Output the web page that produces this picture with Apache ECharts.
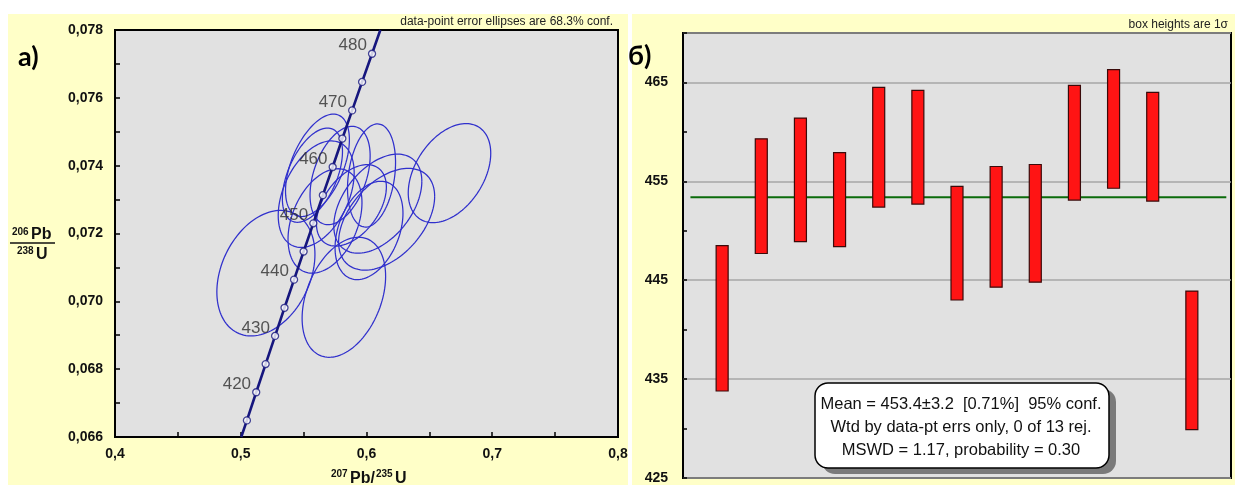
<!DOCTYPE html>
<html>
<head>
<meta charset="utf-8">
<script src="https://cdn.jsdelivr.net/npm/echarts@6/dist/echarts.min.js"></script>
<style>
  html, body { margin: 0; padding: 0; background: #ffffff; }
  #chart { width: 1235px; height: 485px; }
</style>
</head>
<body>
<div id="chart"></div>
<script>
// ---- Concordia (a): reference ages with their isotope ratios ----
const concAges = [415, 420, 425, 430, 435, 440, 445, 450, 455, 460, 465, 470, 475, 480];
const concX = [0.5049, 0.5123, 0.5198, 0.5273, 0.5348, 0.5424, 0.5500, 0.5577, 0.5653, 0.5731, 0.5808, 0.5886, 0.5965, 0.6044];
const concY = [0.06649, 0.06732, 0.06815, 0.06898, 0.06981, 0.07064, 0.07147, 0.07230, 0.07313, 0.07396, 0.07480, 0.07563, 0.07647, 0.07730];
// where the curve leaves the frame (bottom and top)
const concStart = [0.5004, 0.0660];
const concEnd = [0.6110, 0.0780];

// ---- Error ellipses: centre, half-extent in x and y (68.3% conf.), error correlation ----
const ellX   = [0.520, 0.609, 0.560, 0.588, 0.604, 0.579, 0.602, 0.567, 0.616, 0.666, 0.561, 0.557, 0.582];
const ellY   = [0.07083, 0.07288, 0.07316, 0.07283, 0.07371, 0.07371, 0.07209, 0.07237, 0.07242, 0.07378, 0.07401, 0.07372, 0.07012];
const ellSX  = [0.0390, 0.0350, 0.0302, 0.0278, 0.0191, 0.0239, 0.0270, 0.0294, 0.0382, 0.0328, 0.0254, 0.0239, 0.0332];
const ellSY  = [0.00185, 0.00146, 0.00157, 0.00120, 0.00152, 0.00145, 0.00145, 0.00154, 0.00150, 0.00146, 0.00151, 0.00139, 0.00177];
const ellRho = [0.30, 0.45, 0.40, 0.45, 0.25, 0.40, 0.35, 0.35, 0.45, 0.40, 0.50, 0.50, 0.35];

// ---- Weighted mean (б): 1-sigma age boxes, Ma ----
const grainNo   = [1, 2, 3, 4, 5, 6, 7, 8, 9, 10, 11, 12, 13];
const boxTop    = [448.5, 459.3, 461.4, 457.9, 464.5, 464.2, 454.5, 456.5, 456.7, 464.7, 466.3, 464.0, 443.9];
const boxBottom = [433.8, 447.7, 448.9, 448.4, 452.4, 452.7, 443.0, 444.3, 444.8, 453.1, 454.3, 453.0, 429.9];
const meanAge = 453.4;
const meanErr = 3.2;
const meanPct = 0.71;
const nRejected = 0;
const mswd = 1.17;
const probability = 0.30;

// ---------------------------------------------------------------
const FONT = '"Liberation Sans", Arial, sans-serif';
const PANEL = '#ffffc8';
const PLOT_BG = '#e1e1e1';

const concLine = [concStart].concat(concX.map((x, i) => [x, concY[i]])).concat([concEnd]);
const concTicks = concX.map((x, i) => [x, concY[i], concAges[i]]);
const ellData = ellX.map((x, i) => [x, ellY[i], ellSX[i], ellSY[i], ellRho[i]]);
const boxData = grainNo.map((g, i) => [g, boxTop[i], boxBottom[i]]);

const comma = (v, d) => v.toFixed(d).replace('.', ',');

const chart = echarts.init(document.getElementById('chart'), null, { renderer: 'canvas' });

chart.setOption({
  animation: false,
  backgroundColor: '#ffffff',
  textStyle: { fontFamily: FONT },
  grid: [
    { left: 115, top: 30, width: 503, height: 407, show: true, backgroundColor: PLOT_BG,
      borderColor: '#000', borderWidth: 2, containLabel: false },
    { left: 683, top: 33, width: 548, height: 445, show: true, backgroundColor: PLOT_BG,
      borderColor: '#000', borderWidth: 2, containLabel: false }
  ],
  xAxis: [
    { type: 'value', gridIndex: 0, min: 0.4, max: 0.8, interval: 0.05,
      axisLine: { show: false },
      axisTick: { show: true, inside: true, length: 5, lineStyle: { color: '#000', width: 1.5 } },
      splitLine: { show: false },
      axisLabel: { margin: 10, fontSize: 14, fontWeight: 'bold', color: '#111', fontFamily: FONT,
        formatter: v => (Math.abs(v * 10 - Math.round(v * 10)) < 1e-6 ? comma(v, 1) : '') } },
    { type: 'value', gridIndex: 1, min: 0, max: 14, show: false }
  ],
  yAxis: [
    { type: 'value', gridIndex: 0, min: 0.066, max: 0.078, interval: 0.001,
      axisLine: { show: false },
      axisTick: { show: true, inside: true, length: 5, lineStyle: { color: '#000', width: 1.5 } },
      splitLine: { show: false },
      axisLabel: { margin: 12, fontSize: 14, fontWeight: 'bold', color: '#111', fontFamily: FONT,
        formatter: v => (Math.round(v * 1000) % 2 === 0 ? comma(v, 3) : '') } },
    { type: 'value', gridIndex: 1, min: 425, max: 470, interval: 5,
      axisLine: { show: false },
      axisTick: { show: true, inside: true, length: 4, lineStyle: { color: '#000', width: 1.5 } },
      splitLine: { show: false },
      axisLabel: { margin: 15, fontSize: 14, fontWeight: 'bold', color: '#111', fontFamily: FONT,
        formatter: v => ((v - 425) % 10 === 0 && v < 470 ? String(v) : '') } },
    { type: 'value', gridIndex: 1, min: 425, max: 470, interval: 10,
      axisLine: { show: false }, axisTick: { show: false }, axisLabel: { show: false },
      splitLine: { show: true, lineStyle: { color: '#a6a6a6', width: 1.5 } } }
  ],
  series: [
    // error ellipses
    {
      type: 'custom', xAxisIndex: 0, yAxisIndex: 0, z: 3,
      data: ellData,
      encode: { x: 0, y: 1 },
      renderItem: (params, api) => {
        const cx = api.value(0), cy = api.value(1), sx = api.value(2), sy = api.value(3), r = api.value(4);
        const k = Math.sqrt(1 - r * r);
        const pts = [];
        const n = 120;
        for (let j = 0; j <= n; j++) {
          const t = (j / n) * Math.PI * 2;
          pts.push(api.coord([cx + sx * Math.cos(t), cy + sy * (r * Math.cos(t) + k * Math.sin(t))]));
        }
        return { type: 'polyline', shape: { points: pts },
          style: { fill: null, stroke: '#3030cc', lineWidth: 1.25 } };
      }
    },
    // concordia curve
    {
      type: 'line', xAxisIndex: 0, yAxisIndex: 0, z: 4,
      data: concLine, showSymbol: false, symbol: 'none', smooth: false, clip: true,
      lineStyle: { color: '#16167e', width: 2.6 }
    },
    // age marks on the concordia
    {
      type: 'scatter', xAxisIndex: 0, yAxisIndex: 0, z: 5,
      data: concTicks, symbol: 'circle', symbolSize: 7,
      itemStyle: { color: '#ffffff', borderColor: '#16167e', borderWidth: 1.3 },
      label: {
        show: true, position: 'left', distance: 0, offset: [-1, -8],
        fontSize: 17, color: '#2e2e2e', fontFamily: FONT,
        formatter: p => (p.value[2] % 10 === 0 ? String(p.value[2]) : '')
      }
    },
    // weighted mean line
    {
      type: 'line', xAxisIndex: 1, yAxisIndex: 1, z: 2,
      data: [[0.19, meanAge], [13.88, meanAge]], symbol: 'none',
      lineStyle: { color: '#0b6b0b', width: 2 }
    },
    // 1-sigma age boxes
    {
      type: 'custom', xAxisIndex: 1, yAxisIndex: 1, z: 3,
      data: boxData,
      encode: { x: 0, y: [1, 2] },
      renderItem: (params, api) => {
        const p1 = api.coord([api.value(0), api.value(1)]);
        const p2 = api.coord([api.value(0), api.value(2)]);
        const w = 12;
        return { type: 'rect',
          shape: { x: p1[0] - w / 2, y: p1[1], width: w, height: p2[1] - p1[1] },
          style: { fill: '#ff1414', stroke: '#3a0a0a', lineWidth: 1.2 } };
      }
    }
  ],
  graphic: [
    // panel backgrounds
    { type: 'rect', z: -10, silent: true, shape: { x: 8, y: 14, width: 620, height: 471 }, style: { fill: PANEL } },
    { type: 'rect', z: -10, silent: true, shape: { x: 632, y: 14, width: 603, height: 471 }, style: { fill: PANEL } },

    // panel letters
    { type: 'text', left: 18, top: 44, z: 10,
      style: { text: 'a)', font: 'bold 27px Lato, "Open Sans", sans-serif', fill: '#000' } },
    { type: 'text', left: 628, top: 43, z: 10,
      style: { text: 'б)', font: 'bold 27px Lato, "Open Sans", sans-serif', fill: '#000' } },

    // headers
    { type: 'text', z: 10, x: 613, y: 22,
      style: { text: 'data-point error ellipses are 68.3% conf.', font: '12px ' + FONT, fill: '#222',
        textAlign: 'right', textVerticalAlign: 'middle' } },
    { type: 'text', z: 10, x: 1228, y: 25,
      style: { text: 'box heights are 1σ', font: '12px ' + FONT, fill: '#222',
        textAlign: 'right', textVerticalAlign: 'middle' } },

    // y-axis title of the concordia plot: 206Pb / 238U
    { type: 'text', z: 10, x: 12, y: 232,
      style: { text: '206', font: 'bold 10px ' + FONT, fill: '#111', textVerticalAlign: 'middle' } },
    { type: 'text', z: 10, x: 31, y: 235,
      style: { text: 'Pb', font: 'bold 16px ' + FONT, fill: '#111', textVerticalAlign: 'middle' } },
    { type: 'line', z: 10, shape: { x1: 10, y1: 243, x2: 55, y2: 243 }, style: { stroke: '#111', lineWidth: 1.5 } },
    { type: 'text', z: 10, x: 17, y: 251,
      style: { text: '238', font: 'bold 10px ' + FONT, fill: '#111', textVerticalAlign: 'middle' } },
    { type: 'text', z: 10, x: 36, y: 255,
      style: { text: 'U', font: 'bold 16px ' + FONT, fill: '#111', textVerticalAlign: 'middle' } },

    // x-axis title of the concordia plot: 207Pb/235U
    { type: 'text', z: 10, x: 331, y: 474,
      style: { text: '207', font: 'bold 10px ' + FONT, fill: '#111', textVerticalAlign: 'middle' } },
    { type: 'text', z: 10, x: 350, y: 479,
      style: { text: 'Pb/', font: 'bold 16px ' + FONT, fill: '#111', textVerticalAlign: 'middle' } },
    { type: 'text', z: 10, x: 376, y: 474,
      style: { text: '235', font: 'bold 10px ' + FONT, fill: '#111', textVerticalAlign: 'middle' } },
    { type: 'text', z: 10, x: 395, y: 479,
      style: { text: 'U', font: 'bold 16px ' + FONT, fill: '#111', textVerticalAlign: 'middle' } },

    // statistics box with drop shadow
    { type: 'rect', z: 20, shape: { x: 822, y: 389, width: 294, height: 85, r: 13 }, style: { fill: '#7a7a7a' } },
    { type: 'rect', z: 21, shape: { x: 815, y: 383, width: 294, height: 85, r: 13 },
      style: { fill: '#ffffff', stroke: '#000', lineWidth: 1.5 } },
    { type: 'text', z: 22, x: 961, y: 404,
      style: { text: 'Mean = ' + meanAge.toFixed(1) + '±' + meanErr.toFixed(1) + '  [' + meanPct.toFixed(2) + '%]  95% conf.',
        font: '16.5px ' + FONT, fill: '#111', textAlign: 'center', textVerticalAlign: 'middle' } },
    { type: 'text', z: 22, x: 961, y: 427,
      style: { text: 'Wtd by data-pt errs only, ' + nRejected + ' of ' + grainNo.length + ' rej.',
        font: '16.5px ' + FONT, fill: '#111', textAlign: 'center', textVerticalAlign: 'middle' } },
    { type: 'text', z: 22, x: 961, y: 450,
      style: { text: 'MSWD = ' + mswd.toFixed(2) + ', probability = ' + probability.toFixed(2),
        font: '16.5px ' + FONT, fill: '#111', textAlign: 'center', textVerticalAlign: 'middle' } }
  ]
});
</script>
</body>
</html>
